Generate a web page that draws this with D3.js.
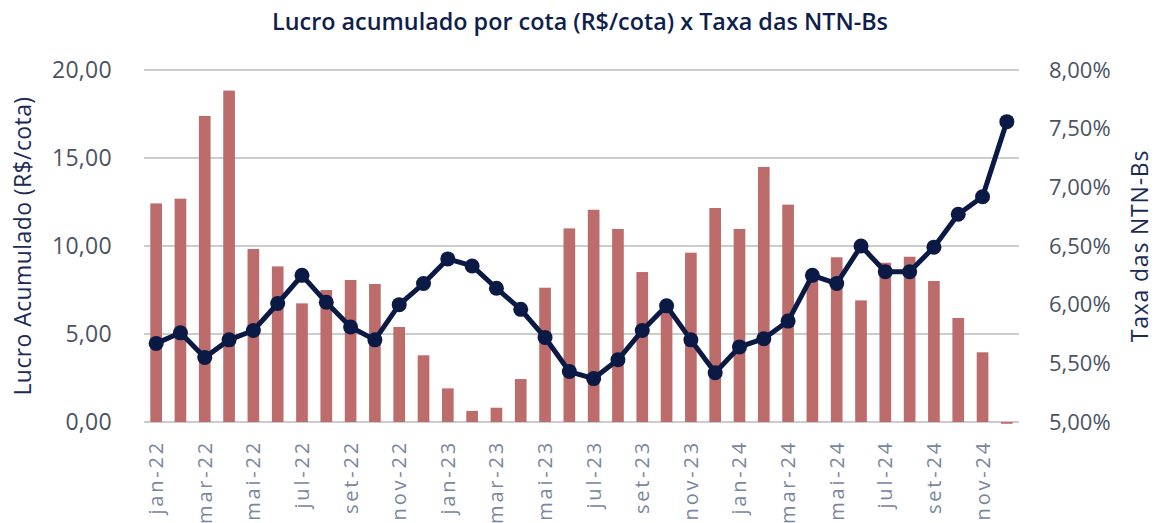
<!DOCTYPE html>
<html>
<head>
<meta charset="utf-8">
<script src="https://cdn.jsdelivr.net/npm/d3@7"></script>
<style>
  body { margin: 0; background: #fff; }
  text { font-family: "Open Sans", sans-serif; }
</style>
</head>
<body>
<div class="chart"></div>
<script>
var months = ["jan-22","fev-22","mar-22","abr-22","mai-22","jun-22","jul-22","ago-22","set-22","out-22","nov-22","dez-22",
  "jan-23","fev-23","mar-23","abr-23","mai-23","jun-23","jul-23","ago-23","set-23","out-23","nov-23","dez-23",
  "jan-24","fev-24","mar-24","abr-24","mai-24","jun-24","jul-24","ago-24","set-24","out-24","nov-24","dez-24"];

// lucro acumulado (R$/cota)
var lucro = [12.42, 12.69, 17.39, 18.83, 9.83, 8.84, 6.74, 7.50, 8.07, 7.84, 5.40, 3.79,
  1.91, 0.63, 0.81, 2.44, 7.63, 11.00, 12.06, 10.97, 8.52, 6.60, 9.62, 12.16,
  10.97, 14.49, 12.35, 8.20, 9.36, 6.91, 9.05, 9.39, 8.01, 5.91, 3.96, -0.10];

// taxa das NTN-Bs (%)
var taxa = [5.67, 5.76, 5.55, 5.70, 5.78, 6.01, 6.25, 6.02, 5.81, 5.70, 6.00, 6.18,
  6.39, 6.33, 6.14, 5.96, 5.72, 5.43, 5.37, 5.53, 5.78, 5.99, 5.70, 5.42,
  5.64, 5.71, 5.86, 6.25, 6.18, 6.50, 6.28, 6.28, 6.49, 6.77, 6.92, 7.56];

var leftTicks = [0, 5, 10, 15, 20];
var rightTicks = [5, 5.5, 6, 6.5, 7, 7.5, 8];

var svgWidth = 1156;
var svgHeight = 523;
var margin = { top: 70, right: 137, bottom: 101, left: 144 };
var width = svgWidth - margin.left - margin.right;
var height = svgHeight - margin.top - margin.bottom;

var svg = d3.select(".chart").append("svg")
  .attr("width", svgWidth)
  .attr("height", svgHeight);

var chartGroup = svg.append("g")
  .attr("transform", `translate(${margin.left}, ${margin.top})`);

var x = d3.scaleBand()
  .domain(months)
  .range([0, width])
  .paddingInner(0.52)
  .paddingOuter(0.26);

var yLeft = d3.scaleLinear().domain([0, 20]).range([height, 0]);
var yRight = d3.scaleLinear().domain([5, 8]).range([height, 0]);

var fmtLeft = d => d3.format(".2f")(d).replace(".", ",");
var fmtRight = d => d3.format(".2f")(d).replace(".", ",") + "%";

// gridlines
chartGroup.append("g")
  .selectAll("line")
  .data(leftTicks)
  .enter()
  .append("line")
  .attr("x1", 0)
  .attr("x2", width)
  .attr("y1", d => yLeft(d))
  .attr("y2", d => yLeft(d))
  .attr("stroke", "#cccccc")
  .attr("stroke-width", 2);

// bars
chartGroup.selectAll("rect.bar")
  .data(lucro)
  .enter()
  .append("rect")
  .attr("class", "bar")
  .attr("x", (d, i) => x(months[i]))
  .attr("width", x.bandwidth())
  .attr("y", d => yLeft(Math.max(0, d)))
  .attr("height", d => Math.abs(yLeft(d) - yLeft(0)))
  .attr("fill", "#bb6c6b");

// line
var line = d3.line()
  .x((d, i) => x(months[i]) + x.bandwidth() / 2)
  .y(d => yRight(d));

chartGroup.append("path")
  .datum(taxa)
  .attr("d", line)
  .attr("fill", "none")
  .attr("stroke", "#0a1a44")
  .attr("stroke-width", 5)
  .attr("stroke-linejoin", "round");

chartGroup.selectAll("circle")
  .data(taxa)
  .enter()
  .append("circle")
  .attr("cx", (d, i) => x(months[i]) + x.bandwidth() / 2)
  .attr("cy", d => yRight(d))
  .attr("r", 7.5)
  .attr("fill", "#0a1a44");

// left axis
var leftAxis = d3.axisLeft(yLeft).tickValues(leftTicks).tickFormat(fmtLeft).tickSize(0).tickPadding(32);
var gl = chartGroup.append("g").call(leftAxis);
gl.select(".domain").remove();
gl.selectAll("text")
  .attr("font-size", 23)
  .attr("font-family", "Open Sans, sans-serif")
  .attr("letter-spacing", 0.3)
  .attr("fill", "#4b5363");

// right axis
var rightAxis = d3.axisRight(yRight).tickValues(rightTicks).tickFormat(fmtRight).tickSize(0).tickPadding(30);
var gr = chartGroup.append("g")
  .attr("transform", `translate(${width}, 0)`)
  .call(rightAxis);
gr.select(".domain").remove();
gr.selectAll("text")
  .attr("font-size", 22)
  .attr("font-family", "Open Sans, sans-serif")
  .attr("fill", "#4b5363");

// x labels, every other month
chartGroup.append("g")
  .selectAll("text")
  .data(months.filter((m, i) => i % 2 === 0))
  .enter()
  .append("text")
  .attr("transform", d => `translate(${x(d) + x.bandwidth() / 2 + 7}, ${height + 18}) rotate(-90)`)
  .attr("text-anchor", "end")
  .attr("font-size", 20)
  .attr("letter-spacing", 2.8)
  .attr("fill", "#7a86a0")
  .text(d => d);

// axis titles
svg.append("text")
  .attr("transform", `translate(31, 246) rotate(-90)`)
  .attr("text-anchor", "middle")
  .attr("font-size", 23)
  .attr("letter-spacing", 0.4)
  .attr("fill", "#1c2b56")
  .text("Lucro Acumulado (R$/cota)");

svg.append("text")
  .attr("transform", `translate(1148, 246) rotate(-90)`)
  .attr("text-anchor", "middle")
  .attr("font-size", 23)
  .attr("letter-spacing", 0.8)
  .attr("fill", "#1c2b56")
  .text("Taxa das NTN-Bs");

// title
svg.append("text")
  .attr("x", 580)
  .attr("y", 30)
  .attr("text-anchor", "middle")
  .attr("font-size", 23)
  .attr("font-weight", 600)
  .attr("fill", "#0f1f4d")
  .attr("textLength", 616)
  .attr("lengthAdjust", "spacingAndGlyphs")
  .text("Lucro acumulado por cota (R$/cota) x Taxa das NTN-Bs");
</script>
</body>
</html>
